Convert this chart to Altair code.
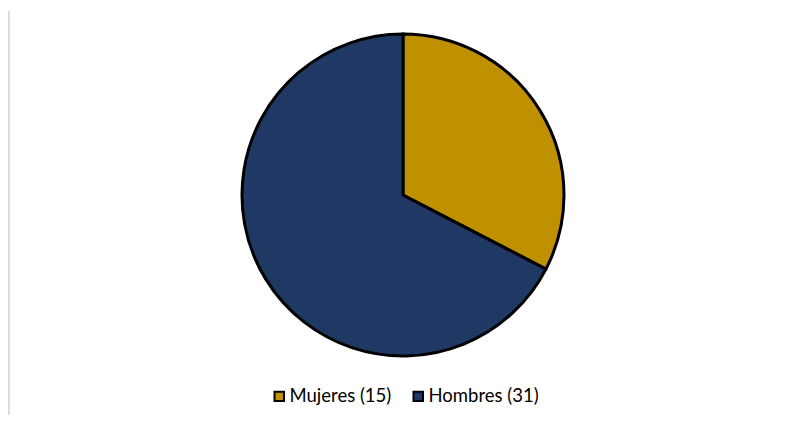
import altair as alt
import pandas as pd

categories = ["Mujeres", "Hombres"]
values = [15, 31]
colors = ["#BF9000", "#1F3864"]

df = pd.DataFrame({"cat": categories, "val": values, "order": [0, 1]})
df["label"] = df["cat"] + " (" + df["val"].astype(str) + ")"
labels = df["label"].tolist()

pie = alt.Chart(df).mark_arc(stroke="black", strokeWidth=3, radius=161).encode(
    theta=alt.Theta("val:Q", stack=True),
    order=alt.Order("order:Q"),
    x=alt.value(395),
    y=alt.value(187),
    color=alt.Color(
        "label:N",
        scale=alt.Scale(domain=labels, range=colors),
        sort=labels,
        legend=alt.Legend(
            title=None,
            orient="none",
            legendX=262,
            legendY=379,
            direction="horizontal",
            symbolType="square",
            symbolSize=90,
            symbolStrokeColor="black",
            symbolStrokeWidth=2,
            symbolOpacity=1,
            labelFont="Lato",
            labelFontSize=18.5,
            labelColor="#000000",
            columnPadding=17,
            labelOffset=1,
        ),
    ),
)

line = alt.Chart(df).mark_rule(color="#D9D9D9", strokeWidth=2).encode(
    x=alt.value(0.5), y=alt.value(3), y2=alt.value(407)
)

chart = alt.layer(line, pie).properties(
    width=771, height=407, padding=0, autosize=alt.AutoSizeParams(type="none")
).configure_view(stroke=None)

chart.save("out.html", embed_options={"renderer": "svg", "actions": False})
